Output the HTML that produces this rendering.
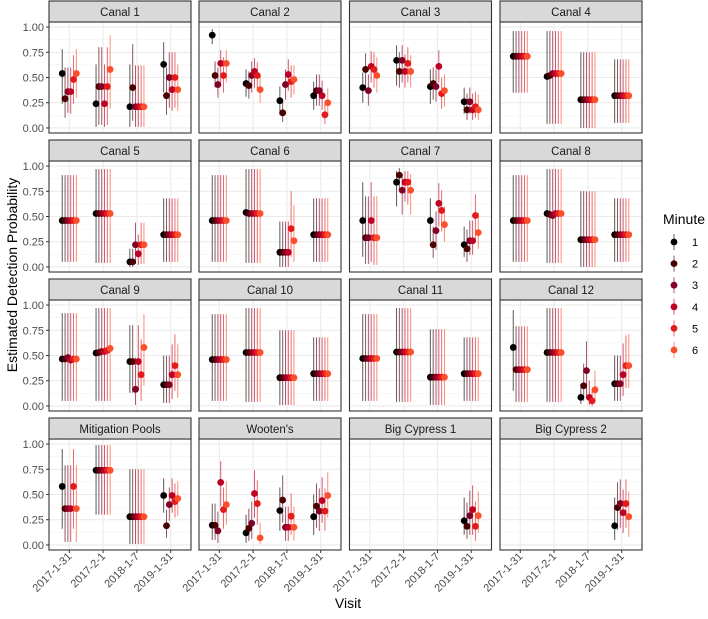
<!DOCTYPE html>
<html><head><meta charset="utf-8"><style>
body{margin:0;background:#fff;font-family:"Liberation Sans",sans-serif;}
svg text{font-family:"Liberation Sans",sans-serif;}
</style></head><body>
<svg id="chart" width="708" height="614" xmlns="http://www.w3.org/2000/svg"></svg>
<script>
const facetNames=["Canal 1","Canal 2","Canal 3","Canal 4","Canal 5","Canal 6","Canal 7","Canal 8","Canal 9","Canal 10","Canal 11","Canal 12","Mitigation Pools","Wooten's","Big Cypress 1","Big Cypress 2"];
const visits=["2017-1-31","2017-2-1","2018-1-7","2019-1-31"];
const minutes=["1","2","3","4","5","6"];
const yTicks=[0,0.25,0.5,0.75,1];
const yTickLabels=["0.00","0.25","0.50","0.75","1.00"];
const colors=["#000000","#4a0000","#800026","#bd0026","#e31a1c","#fc4e2a"];
const N=null;
const est=[
[[.54,.29,.36,.36,.48,.54],[.24,.41,.41,.24,.41,.58],[.21,.40,.21,.21,.21,.21],[.63,.32,.50,.38,.50,.38]],
[[.92,.52,.43,.64,.52,.64],[.44,.42,.52,.56,.52,.38],[.27,.15,.43,.53,.46,.48],[.32,.37,.37,.32,.13,.25]],
[[.40,.58,.37,.61,.58,.52],[.67,.56,.67,.56,.64,.56],[.41,.44,.41,.61,.34,.37],[.26,.18,.26,.18,.21,.18]],
[[.71,.71,.71,.71,.71,.71],[.51,.52,.54,.54,.54,.54],[.28,.28,.28,.28,.28,.28],[.32,.32,.32,.32,.32,.32]],
[[.46,.46,.46,.46,.46,.46],[.53,.53,.53,.53,.53,.53],[.05,.05,.22,.13,.22,.22],[.32,.32,.32,.32,.32,.32]],
[[.46,.46,.46,.46,.46,.46],[.54,.53,.53,.53,.53,.53],[.145,.145,.145,.145,.38,.26],[.32,.32,.32,.32,.32,.32]],
[[.46,.29,.29,.46,.29,.29],[.84,.91,.76,.84,.84,.76],[.46,.22,.36,.63,.56,.42],[.22,.18,.26,.26,.51,.34]],
[[.46,.46,.46,.46,.46,.46],[.53,.52,.51,.53,.53,.53],[.27,.27,.27,.27,.27,.27],[.32,.32,.32,.32,.32,.32]],
[[.465,.465,.48,.455,.465,.465],[.525,.53,.54,.54,.55,.57],[.44,.44,.165,.44,.31,.58],[.21,.21,.21,.31,.40,.31]],
[[.46,.46,.46,.46,.46,.46],[.53,.53,.53,.53,.53,.53],[.28,.28,.28,.28,.28,.28],[.32,.32,.32,.32,.32,.32]],
[[.47,.47,.47,.47,.47,.47],[.535,.535,.535,.535,.535,.535],[.285,.285,.285,.285,.285,.285],[.32,.32,.32,.32,.32,.32]],
[[.58,.36,.36,.36,.36,.36],[.53,.53,.53,.53,.53,.53],[.085,.20,.35,.085,.05,.16],[.22,.22,.22,.31,.40,.40]],
[[.58,.36,.36,.36,.58,.36],[.74,.74,.74,.74,.74,.74],[.28,.28,.28,.28,.28,.28],[.49,.19,.40,.49,.43,.46]],
[[.195,.195,.14,.62,.35,.40],[.12,.165,.215,.51,.41,.07],[.34,.445,.175,.175,.285,.175],[.28,.385,.335,.44,.335,.49]],
[[N,N,N,N,N,N],[N,N,N,N,N,N],[N,N,N,N,N,N],[.24,.185,.29,.35,.185,.29]],
[[N,N,N,N,N,N],[N,N,N,N,N,N],[N,N,N,N,N,N],[.19,.37,.41,.32,.41,.28]]
];
const lo=[
[[.24,.10,.15,.14,.24,.30],[.01,.03,.03,.01,.03,.19],[.01,.07,.01,.01,.01,.01],[.35,.13,.20,.17,.20,.17]],
[[.83,.40,.30,.45,.35,.45],[.31,.29,.35,.40,.38,.25],[.13,.06,.28,.37,.30,.33],[.18,.22,.22,.18,.04,.13]],
[[.25,.40,.22,.45,.40,.35],[.42,.40,.45,.40,.45,.40],[.24,.28,.26,.45,.19,.21],[.14,.08,.14,.08,.10,.08]],
[[.35,.35,.35,.35,.35,.35],[.04,.04,.04,.04,.04,.04],[0,0,0,0,0,0],[.05,.05,.05,.05,.05,.05]],
[[.05,.05,.05,.05,.05,.05],[.04,.04,.04,.04,.04,.04],[0,0,.03,.02,.03,.03],[.05,.05,.05,.05,.05,.05]],
[[.05,.05,.05,.05,.05,.05],[.04,.04,.04,.04,.04,.04],[0,0,0,0,.10,.05],[.05,.05,.05,.05,.05,.05]],
[[.10,.03,.03,.05,.02,.02],[.60,.75,.52,.65,.62,.52],[.25,.09,.17,.40,.35,.25],[.10,.05,.12,.12,.28,.18]],
[[.05,.05,.05,.05,.05,.05],[.04,.04,.04,.04,.04,.04],[0,0,0,0,0,0],[.05,.05,.05,.05,.05,.05]],
[[.05,.05,.05,.05,.05,.05],[.05,.05,.05,.05,.05,.05],[.13,.13,.01,.15,.05,.20],[.03,.03,.03,.07,.15,.08]],
[[.05,.05,.05,.05,.05,.05],[.04,.04,.04,.04,.04,.04],[.01,.01,.01,.01,.01,.01],[.05,.05,.05,.05,.05,.05]],
[[.05,.05,.05,.05,.05,.05],[.04,.04,.04,.04,.04,.04],[.01,.01,.01,.01,.01,.01],[.05,.05,.05,.05,.05,.05]],
[[.15,.04,.04,.04,.04,.04],[.04,.04,.04,.04,.04,.04],[.02,.05,.10,.01,0,.05],[.05,.05,.05,.10,.18,.18]],
[[.16,.03,.03,.03,.16,.03],[.30,.30,.30,.30,.30,.30],[.01,.01,.01,.01,.01,.01],[.32,.07,.24,.32,.27,.29]],
[[.05,.05,.02,.38,.16,.20],[.02,.04,.06,.27,.20,.01],[.14,.22,.04,.04,.10,.04],[.10,.17,.14,.22,.14,.27]],
[[N,N,N,N,N,N],[N,N,N,N,N,N],[N,N,N,N,N,N],[.10,.06,.10,.10,.04,.12]],
[[N,N,N,N,N,N],[N,N,N,N,N,N],[N,N,N,N,N,N],[.05,.15,.17,.12,.17,.08]]
];
const hi=[
[[.78,.60,.60,.60,.72,.78],[.63,.80,.80,.63,.80,.92],[.63,.83,.62,.62,.62,.62],[.85,.60,.75,.75,.75,.63]],
[[.98,.66,.60,.77,.70,.77],[.58,.56,.66,.69,.65,.53],[.41,.28,.58,.68,.62,.62],[.46,.53,.53,.47,.26,.39]],
[[.55,.74,.53,.76,.75,.70],[.82,.75,.82,.73,.80,.72],[.58,.60,.58,.77,.50,.53],[.40,.34,.40,.34,.36,.33]],
[[.96,.96,.96,.96,.96,.96],[.96,.96,.96,.96,.96,.96],[.75,.75,.75,.75,.75,.75],[.68,.68,.68,.68,.68,.68]],
[[.91,.91,.91,.91,.91,.91],[.97,.97,.97,.97,.97,.97],[.18,.18,.44,.32,.44,.44],[.68,.68,.68,.68,.68,.68]],
[[.91,.91,.91,.91,.91,.91],[.97,.97,.97,.97,.97,.97],[.45,.45,.45,.45,.75,.61],[.68,.68,.68,.68,.68,.68]],
[[.84,.70,.70,.84,.70,.70],[.95,.98,.92,.95,.95,.92],[.68,.40,.55,.83,.76,.60],[.40,.37,.46,.46,.72,.54]],
[[.91,.91,.91,.91,.91,.91],[.97,.97,.97,.97,.97,.97],[.75,.75,.75,.75,.75,.75],[.68,.68,.68,.68,.68,.68]],
[[.92,.92,.92,.92,.92,.92],[.97,.97,.97,.97,.97,.97],[.80,.80,.48,.80,.66,.91],[.50,.50,.50,.61,.71,.61]],
[[.91,.91,.91,.91,.91,.91],[.97,.97,.97,.97,.97,.97],[.75,.75,.75,.75,.75,.75],[.68,.68,.68,.68,.68,.68]],
[[.91,.91,.91,.91,.91,.91],[.97,.97,.97,.97,.97,.97],[.76,.76,.76,.76,.76,.76],[.68,.68,.68,.68,.68,.68]],
[[.95,.79,.79,.79,.79,.79],[.97,.97,.97,.97,.97,.97],[.22,.42,.64,.25,.15,.35],[.50,.50,.50,.62,.70,.71]],
[[.95,.79,.79,.79,.95,.79],[.99,.99,.99,.99,.99,.99],[.75,.75,.75,.75,.75,.75],[.66,.35,.57,.66,.61,.63]],
[[.41,.41,.33,.83,.57,.63],[.30,.36,.43,.74,.64,.22],[.57,.69,.38,.38,.51,.38],[.50,.61,.56,.67,.56,.72]],
[[N,N,N,N,N,N],[N,N,N,N,N,N],[N,N,N,N,N,N],[.47,.42,.54,.59,.43,.53]],
[[N,N,N,N,N,N],[N,N,N,N,N,N],[N,N,N,N,N,N],[.47,.62,.65,.55,.65,.53]]
];

const NS="http://www.w3.org/2000/svg";
const svg=document.getElementById("chart");
function mk(tag,attrs,parent,text){const e=document.createElementNS(NS,tag);for(const k in attrs)e.setAttribute(k,attrs[k]);if(text!==undefined)e.textContent=text;(parent||svg).appendChild(e);return e;}
const colX=[49,199,349.5,500], PW=142, rowTop=[1,140,279,418], SH=21, PH=111;
function yScale(row,v){const b=rowTop[row]+SH+PH;return b-5.05-v*100.9;}
function xScale(col,i,m){const u=PW/4.2;const c=colX[col]+(i+1-0.4)*u;const dodge=0.5*u;return c+(m-2.5)/6*dodge;}

facetNames.forEach((name,f)=>{
  const row=Math.floor(f/4),col=f%4;
  const g=mk("g",{});
  
  
  const top=rowTop[row]+SH, x0=colX[col];
  const bg=mk("rect",{x:x0,y:top,width:PW,height:PH,fill:"#fff"},g);
  
  
  // minor grid
  for(let k=0;k<4;k++){const yy=yScale(row,0.125+k*0.25);mk("line",{x1:x0,x2:x0+PW,y1:yy,y2:yy,stroke:"#f2f2f2","stroke-width":0.6},g);}
  yTicks.forEach(t=>{const yy=yScale(row,t);mk("line",{x1:x0,x2:x0+PW,y1:yy,y2:yy,stroke:"#ebebeb","stroke-width":1.1},g);});
  visits.forEach((v,i)=>{const xx=xScale(col,i,2.5);mk("line",{x1:xx,x2:xx,y1:top,y2:top+PH,stroke:"#ebebeb","stroke-width":1.1},g);});
  // error bars and points
  visits.forEach((v,i)=>{
    minutes.forEach((m,j)=>{
      const e=est[f][i][j]; if(e===null)return;
      const xx=xScale(col,i,j);
      const bar=mk("line",{x1:xx,x2:xx,y1:yScale(row,lo[f][i][j]),y2:yScale(row,hi[f][i][j]),stroke:colors[j],"stroke-width":1,"stroke-opacity":0.65},g);
      
      
    });
  });
  visits.forEach((v,i)=>{
    minutes.forEach((m,j)=>{
      const e=est[f][i][j]; if(e===null)return;
      const pt=mk("circle",{cx:xScale(col,i,j),cy:yScale(row,e),r:3.4,fill:colors[j]},g);
      
      
    });
  });
  mk("rect",{x:x0,y:top,width:PW,height:PH,fill:"none",stroke:"#333","stroke-width":1.1},g);
  const strip=mk("rect",{x:x0,y:rowTop[row],width:PW,height:SH,fill:"#d9d9d9",stroke:"#333","stroke-width":1.1},g);
  
  
  const st=mk("text",{x:x0+PW/2,y:rowTop[row]+15,"text-anchor":"middle","font-size":"11.5",fill:"#1a1a1a"},g,name);
  
  
  if(col===0){
    yTicks.forEach((t,k)=>{const yy=yScale(row,t);
      mk("line",{x1:x0-3,x2:x0,y1:yy,y2:yy,stroke:"#333","stroke-width":1},g);
      const tl=mk("text",{x:x0-5,y:yy+4,"text-anchor":"end","font-size":"11",fill:"#4d4d4d"},g,yTickLabels[k]);
      
      
    });
  }
  if(row===3){
    visits.forEach((v,i)=>{const xx=xScale(col,i,2.5);const b=top+PH;
      mk("line",{x1:xx,x2:xx,y1:b,y2:b+3,stroke:"#333","stroke-width":1},g);
      const tl=mk("text",{x:xx+3,y:b+7,"text-anchor":"end","font-size":"11",fill:"#4d4d4d",transform:`rotate(-45 ${xx+3} ${b+7})`},g,v);
      
      
    });
  }
});
const xt=mk("text",{x:348,y:608,"text-anchor":"middle","font-size":"14",fill:"#000"},svg,"Visit");


const yt=mk("text",{x:17,y:275,"text-anchor":"middle","font-size":"14",fill:"#000",transform:"rotate(-90 17 275)"},svg,"Estimated Detection Probability");


const lg=mk("g",{});


const lt=mk("text",{x:663,y:224,"font-size":"14",fill:"#000"},lg,"Minute");


minutes.forEach((m,j)=>{const yy=242+j*21.6;
  const k=mk("g",{},lg);
  
  
  mk("line",{x1:674,x2:674,y1:yy-8,y2:yy+8,stroke:colors[j],"stroke-width":1,"stroke-opacity":0.65},k);
  mk("circle",{cx:674,cy:yy,r:3.4,fill:colors[j]},k);
  mk("text",{x:692,y:yy+4,"font-size":"11",fill:"#000"},k,m);
});
</script>
</body></html>
